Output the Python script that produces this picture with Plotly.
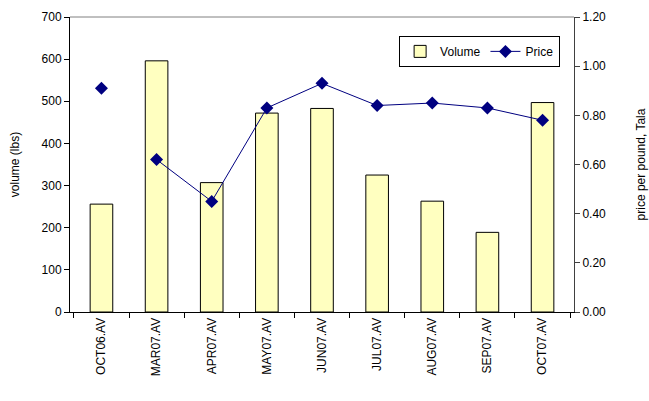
import plotly.graph_objects as go

# Monthly averages
months = ["OCT06.AV", "MAR07.AV", "APR07.AV", "MAY07.AV", "JUN07.AV",
          "JUL07.AV", "AUG07.AV", "SEP07.AV", "OCT07.AV"]
volume_lbs = [256, 596, 307, 472, 483, 325, 263, 189, 497]
price_tala = [0.91, 0.62, 0.45, 0.83, 0.93, 0.84, 0.85, 0.83, 0.78]

FONT = "Liberation Sans, Arial, sans-serif"
NAVY = "#000080"

fig = go.Figure()

fig.add_trace(go.Bar(
    x=months, y=volume_lbs, name="Volume",
    marker=dict(color="#FFFFC0", line=dict(color="#000000", width=1)),
    width=0.41, yaxis="y",
))

# OCT06 price stands alone; the line runs from MAR07 onward
fig.add_trace(go.Scatter(
    x=months[:1], y=price_tala[:1], mode="markers", showlegend=False,
    marker=dict(symbol="diamond", size=10, color=NAVY), yaxis="y2",
))
fig.add_trace(go.Scatter(
    x=months[1:], y=price_tala[1:], mode="lines+markers", name="Price",
    line=dict(color=NAVY, width=1),
    marker=dict(symbol="diamond", size=10, color=NAVY), yaxis="y2",
))

fig.update_layout(
    width=649, height=401,
    margin=dict(l=70, r=75, t=17, b=89),
    paper_bgcolor="white", plot_bgcolor="white",
    font=dict(family=FONT, size=12, color="#000000"),
    bargap=0.59,
    xaxis=dict(
        tickangle=-90, tickfont=dict(size=12), automargin=False,
        showline=True, linecolor="#000000", linewidth=1,
        ticks="outside", ticklen=5, tickcolor="#000000",
        tickson="boundaries", showgrid=False,
    ),
    yaxis=dict(
        range=[0, 700], dtick=100, showgrid=False, automargin=False,
        showline=True, linecolor="#000000", linewidth=1,
        ticks="outside", ticklen=5, tickcolor="#000000",
        title=dict(text="volume (lbs)", font=dict(size=12), standoff=19),
        zeroline=False,
    ),
    yaxis2=dict(
        range=[0, 1.2], dtick=0.2, tickformat=".2f", overlaying="y",
        side="right", showgrid=False, automargin=False,
        showline=True, linecolor="#404040", linewidth=1,
        ticks="outside", ticklen=5, tickcolor="#404040",
        title=dict(text="price per pound, Tala", font=dict(size=12), standoff=31),
        zeroline=False,
    ),
    legend=dict(
        orientation="h", x=0.653, y=0.936, xanchor="left", yanchor="top",
        bgcolor="white", bordercolor="#000000", borderwidth=1,
        font=dict(size=12), itemwidth=30, tracegroupgap=0,
    ),
    shapes=[dict(type="line", xref="paper", yref="paper",
                 x0=0, x1=1, y0=1, y1=1,
                 line=dict(color="#808080", width=1))],
)

fig.write_html("out.html")
